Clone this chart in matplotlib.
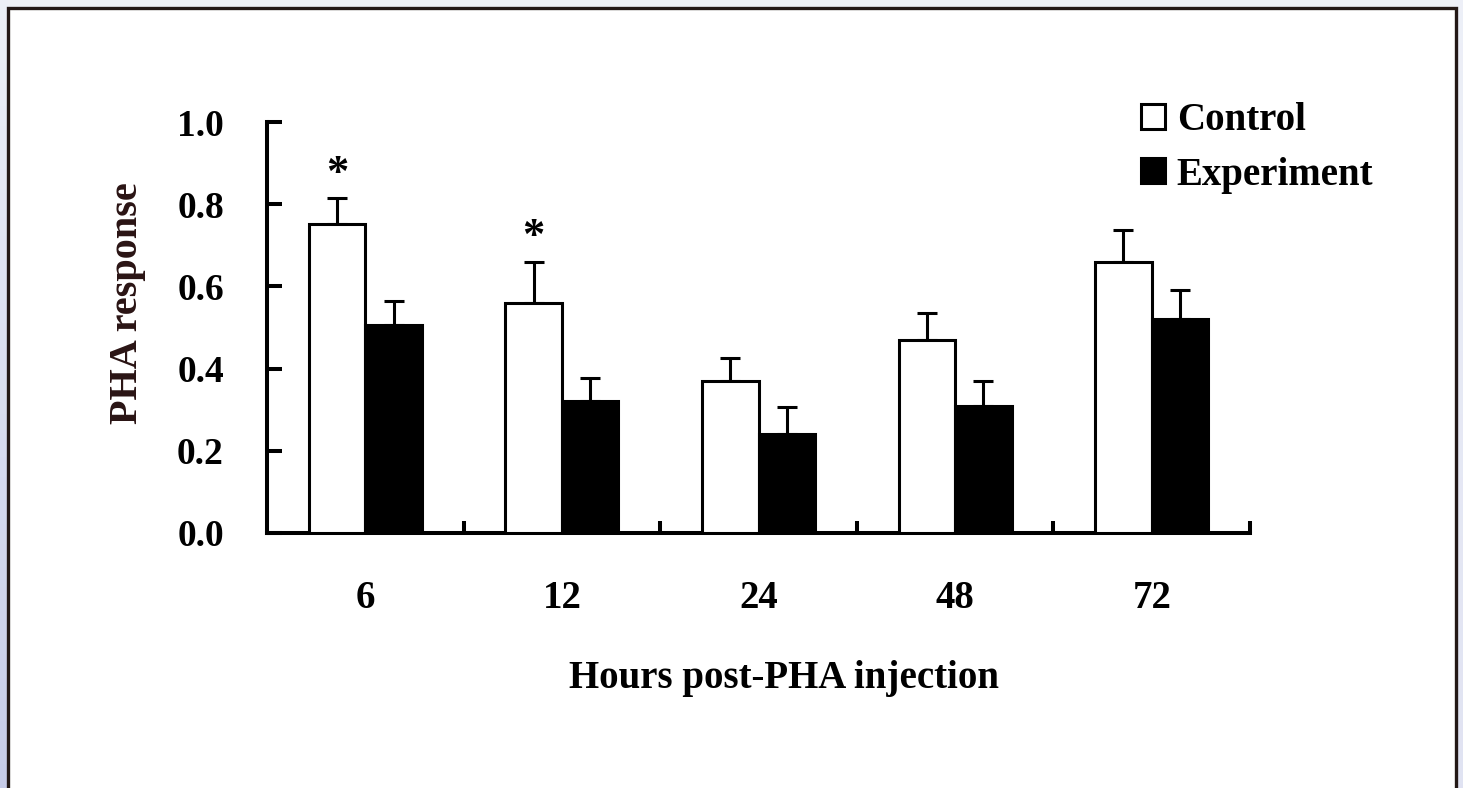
import numpy as np
import matplotlib
matplotlib.use("Agg")
import matplotlib.pyplot as plt
from matplotlib.patches import Rectangle

plt.rcParams['font.family'] = ['Liberation Serif', 'DejaVu Serif']
plt.rcParams['font.weight'] = 'bold'

categories = ["6", "12", "24", "48", "72"]
control_mean = [0.752, 0.560, 0.370, 0.469, 0.660]
control_se = [0.062, 0.100, 0.055, 0.067, 0.077]
experiment_mean = [0.505, 0.322, 0.241, 0.309, 0.520]
experiment_se = [0.060, 0.054, 0.066, 0.060, 0.071]
significant = [True, True, False, False, False]
y_ticks = [0.0, 0.2, 0.4, 0.6, 0.8, 1.0]

W, H = 1463, 788
fig = plt.figure(figsize=(W / 100, H / 100), dpi=100)
fig.patch.set_facecolor('#eef0f6')

# left/right decorative bluish strips and the white framed panel
bg = fig.add_axes([0, 0, 1, 1], zorder=-10)
bg.set_axis_off()
grad = np.linspace(0, 1, 200)[:, None]
bg.imshow(np.dstack([0.93 - 0.15 * grad, 0.94 - 0.14 * grad, 0.97 - 0.06 * grad]),
          extent=[0, 8, 0, 788], aspect='auto', origin='upper')
bg.imshow(np.dstack([0.93 - 0.05 * grad, 0.94 - 0.05 * grad, 0.97 - 0.02 * grad]),
          extent=[1455, W, 0, 788], aspect='auto', origin='upper')
bg.add_patch(Rectangle((7.5, -20), 1448, 788 + 20 - 7.5, facecolor='white',
                       edgecolor='#231816', linewidth=2.4))
bg.set_xlim(0, W)
bg.set_ylim(0, H)

left, right, top, bottom = 267, 1250, 122, 533
ax = fig.add_axes([left / W, 1 - bottom / H, (right - left) / W, (bottom - top) / H])
ax.set_facecolor('none')

x = np.arange(len(categories))
bw = 0.287
zeros = np.zeros(len(categories))
b1 = ax.bar(x - bw / 2, control_mean, bw, color='white', edgecolor='black',
            linewidth=2.2, label='Control', zorder=3)
b2 = ax.bar(x + bw / 2, experiment_mean, bw, color='black', edgecolor='black',
            linewidth=2.2, label='Experiment', zorder=3)
ax.errorbar(x - bw / 2, control_mean, yerr=[zeros, control_se], fmt='none',
            ecolor='black', elinewidth=2.2, capsize=7, capthick=2.2, zorder=2)
ax.errorbar(x + bw / 2, experiment_mean, yerr=[zeros, experiment_se], fmt='none',
            ecolor='black', elinewidth=2.2, capsize=7, capthick=2.2, zorder=2)

for xi, m, s, sig in zip(x, control_mean, control_se, significant):
    if sig:
        ax.text(xi - bw / 2, m + s + 0.012, '*', ha='center', va='bottom',
                fontsize=32, fontweight='bold')

ax.set_xlim(-0.5, len(categories) - 0.5)
ax.set_ylim(0, 1.0)
ax.set_yticks(y_ticks)
ax.set_yticklabels([f"{t:.1f}" for t in y_ticks])
ax.set_xticks(x + 0.5)
ax.set_xticklabels([])
ax.set_xticks(x, minor=True)
ax.set_xticklabels(categories, minor=True)

for side in ['top', 'right']:
    ax.spines[side].set_visible(False)
for side in ['left', 'bottom']:
    ax.spines[side].set_linewidth(2.9)
    ax.spines[side].set_capstyle('projecting')

ax.tick_params(axis='y', direction='in', length=11, width=2.9, labelsize=27, pad=31)
ax.tick_params(axis='x', which='major', direction='in', length=9, width=2.9)
ax.tick_params(axis='x', which='minor', length=0, labelsize=28, pad=34)
for lab in ax.get_xticklabels(minor=True) + ax.get_yticklabels():
    lab.set_fontweight('bold')

fig.text(128 / W, 1 - 303 / H, 'PHA response', rotation=90, ha='center', va='center',
         fontsize=29, fontweight='bold', color='#2a1414')
fig.text(784 / W, 1 - 688 / H, 'Hours post-PHA injection', ha='center', va='baseline',
         fontsize=28, fontweight='bold')

leg = ax.legend(handles=[b1, b2], loc='upper left',
                bbox_to_anchor=(1141 / W, 1 - 102 / H), bbox_transform=fig.transFigure,
                frameon=False, fontsize=28, handlelength=0.62, handleheight=0.62,
                handletextpad=0.3, labelspacing=0.45, borderpad=0, borderaxespad=0)
for t in leg.get_texts():
    t.set_fontweight('bold')

fig.savefig('out.png', dpi=100)
